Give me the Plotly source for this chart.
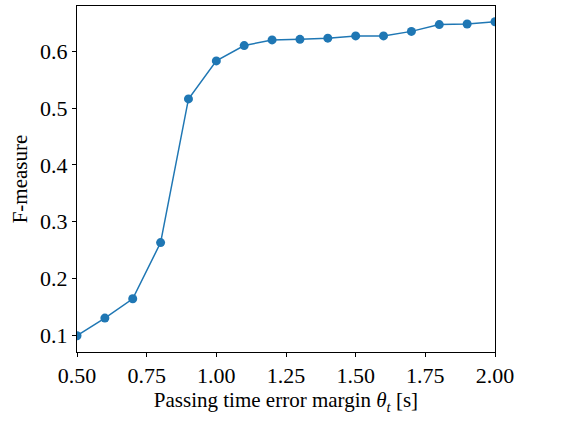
import plotly.graph_objects as go

margin_s = [0.5, 0.6, 0.7, 0.8, 0.9, 1.0, 1.1, 1.2, 1.3, 1.4, 1.5, 1.6, 1.7, 1.8, 1.9, 2.0]
f_measure = [0.099, 0.130, 0.164, 0.263, 0.516, 0.583, 0.610, 0.620, 0.621, 0.623,
             0.627, 0.627, 0.635, 0.647, 0.648, 0.652]
x_ticks = [0.5, 0.75, 1.0, 1.25, 1.5, 1.75, 2.0]
x_tick_labels = ["0.50", "0.75", "1.00", "1.25", "1.50", "1.75", "2.00"]
y_ticks = [0.1, 0.2, 0.3, 0.4, 0.5, 0.6]
y_tick_labels = ["0.1", "0.2", "0.3", "0.4", "0.5", "0.6"]

fig = go.Figure()
fig.add_trace(go.Scatter(
    x=margin_s, y=f_measure, mode="lines+markers",
    line=dict(color="#1f77b4", width=1.5),
    marker=dict(color="#1f77b4", size=9),
    cliponaxis=True, showlegend=False,
))

fam = "Liberation Serif"
tick_font = dict(family=fam, size=22, color="black")
title_font = dict(family=fam, size=21, color="black")
fig.update_layout(
    width=580, height=423,
    margin=dict(l=77, r=85, t=6, b=71),
    paper_bgcolor="white", plot_bgcolor="white",
    font=tick_font,
)
fig.update_xaxes(
    range=[0.5, 2.0], tickvals=x_ticks, ticktext=x_tick_labels,
    showgrid=False, zeroline=False, automargin=False,
    showline=True, linecolor="black", linewidth=1, mirror=True,
    ticks="outside", ticklen=4, tickcolor="black", tickwidth=1,
    tickfont=tick_font,
    title=dict(text="Passing time error margin <i>θ</i><sub><i>t</i></sub> [s]", font=title_font, standoff=4),
)
fig.update_yaxes(
    range=[0.0703, 0.6797], tickvals=y_ticks, ticktext=y_tick_labels,
    showgrid=False, zeroline=False, automargin=False,
    showline=True, linecolor="black", linewidth=1, mirror=True,
    ticks="outside", ticklen=4, tickcolor="black", tickwidth=1,
    tickfont=tick_font,
    title=dict(text="F-measure", font=title_font, standoff=6),
)
fig.write_html("out.html", config={"displayModeBar": False},
               post_script="document.body.style.margin='0';")
